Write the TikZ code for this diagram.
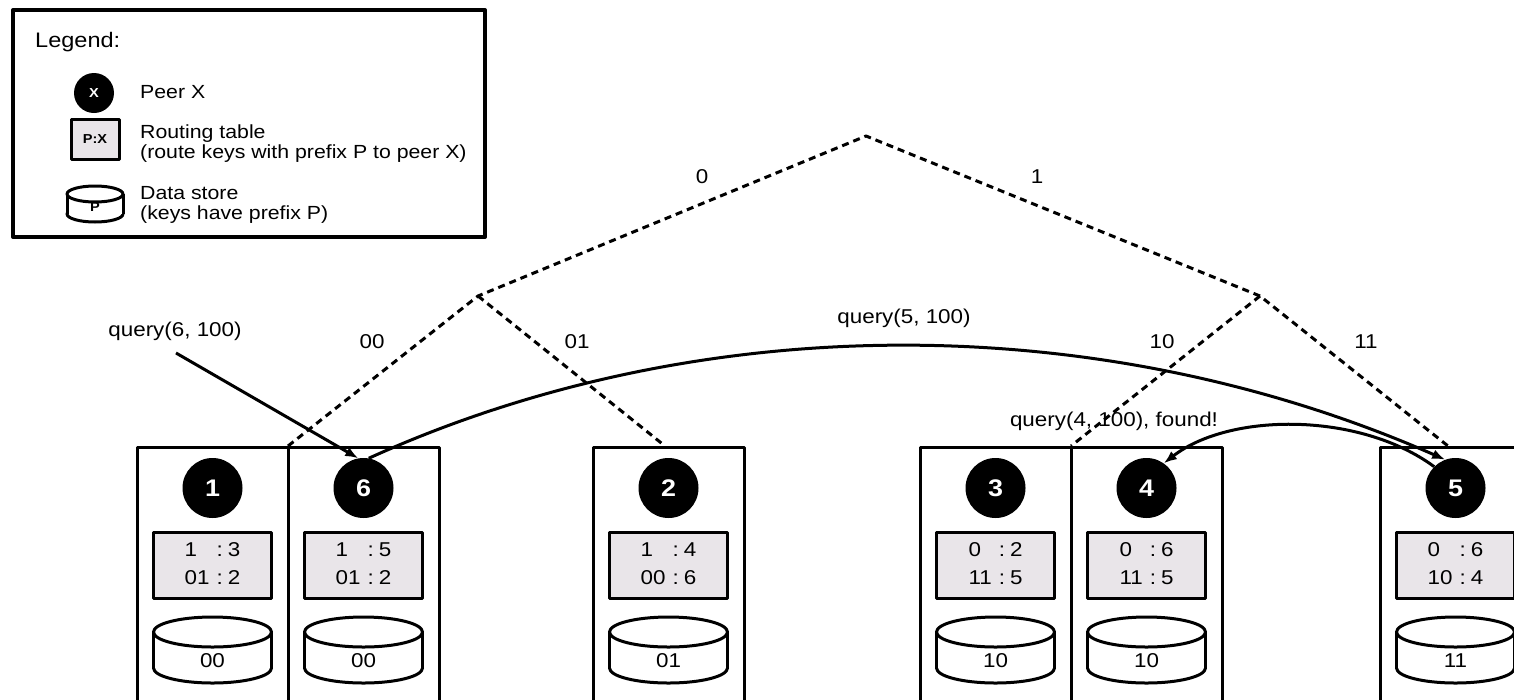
\documentclass[tikz,border=0pt]{standalone}
\usepackage{fontspec}
\setmainfont{Liberation Sans}[FakeStretch=1.12]
\usetikzlibrary{arrows.meta}

\definecolor{tablegray}{RGB}{233,229,233}

% fonts
\newcommand\lblfont{\fontsize{20}{24}\selectfont}
\newcommand\legitemfont{\fontsize{19}{23}\selectfont}
\newcommand\legfont{\fontsize{21}{25}\selectfont}
\newcommand\numfont{\bfseries\fontsize{24}{28}\selectfont}
\newcommand\smallfont{\fontsize{13}{15}\selectfont}

% a data store drawn as a flat cylinder: name, x, y (centre), half width, half height of ellipse, body offset, label
\newcommand\drawstore[7]{%
  \begin{scope}[shift={(#2,#3)}]
    \draw[storeline, fill=white] (0,#6) ellipse [x radius=#4, y radius=#5];
    \fill[white] (-#4,-#6) rectangle (#4,#6);
    \draw[storeline] (-#4,-#6) -- (-#4,#6) (#4,-#6) -- (#4,#6);
    \draw[storeline, fill=white] (0,-#6) ellipse [x radius=#4, y radius=#5];
    \node[storetext] (#1) at (0,#6-7) {#7};
  \end{scope}}

% two-line routing table: prefix : peer
\newcommand\rtab[4]{\renewcommand\arraystretch{1.15}%
  \begin{tabular}{@{}l@{\hspace{7pt}}c@{\hspace{5pt}}l@{}}#1&:&#2\\#3&:&#4\end{tabular}}

\tikzset{
  peerbox/.style={draw, line width=3pt, minimum width=151pt, minimum height=300pt, anchor=north, inner sep=0pt},
  peer/.style={circle, fill=black, minimum size=60pt, inner sep=0pt, text=white, font=\numfont},
  rtable/.style={draw, line width=3pt, fill=tablegray, minimum width=118pt, minimum height=66pt, inner sep=0pt, font=\lblfont},
  storeline/.style={line width=3pt},
  storetext/.style={font=\lblfont, inner sep=0pt},
  treeline/.style={line width=3pt, dash pattern=on 7pt off 5pt},
  qline/.style={line width=3pt, -{Latex[length=13pt,width=10pt]}},
  lbl/.style={font=\lblfont, inner sep=0pt},
  legtext/.style={font=\legitemfont, inner sep=0pt, anchor=base west},
  every picture/.style={line join=round}
}

\begin{document}
\begin{tikzpicture}[x=1pt, y=-1pt]
  \clip (0,0) rectangle (1514,699);
  \fill[white] (0,0) rectangle (1514,699);

  % ---------- legend ----------
  \draw[line width=4pt] (13,10) rectangle (485,237);
  \node[legtext, font=\legfont] (legtitle) at (35,47) {Legend:};
  \node[circle, fill=black, minimum size=40pt, inner sep=0pt, text=white, font=\bfseries\smallfont] (legpeer) at (94,93) {X};
  \node[legtext] (legpeertxt) at (140,98) {Peer X};
  \node[draw, line width=3pt, fill=tablegray, minimum width=48pt, minimum height=40pt, inner sep=0pt, font=\bfseries\smallfont] (legtab) at (95,139) {P:X};
  \node[legtext] (legtab1) at (140,138) {Routing table};
  \node[legtext] (legtab2) at (140,158) {(route keys with prefix P to peer X)};
  \begin{scope}[storetext/.style={font=\bfseries\smallfont, inner sep=0pt}]
    \drawstore{legstore}{95}{204}{28}{8}{10}{P}
  \end{scope}
  \node[legtext] (legstore1) at (140,199) {Data store};
  \node[legtext] (legstore2) at (140,219) {(keys have prefix P)};

  % ---------- peers ----------
  \foreach \n/\x/\a/\b/\c/\d/\s in {1/212.5/1/3/01/2/00, 6/363.5/1/5/01/2/00, 2/668.5/1/4/00/6/01,
                                   3/995.5/0/2/11/5/10, 4/1146.5/0/6/11/5/10, 5/1455.5/0/6/10/4/11}{
    \node[peerbox] (box\n) at (\x,446) {};
    \node[peer] (p\n) at (\x,488) {\n};
    \node[rtable] (rt\n) at (\x,565) {\rtab{\a}{\b}{\c}{\d}};
    \drawstore{ds\n}{\x}{650}{59}{15}{18}{\s}
  }

  % ---------- prefix tree ----------
  \coordinate (root) at (866,136);
  \coordinate (t0) at (478,296);
  \coordinate (t1) at (1260,296);
  \coordinate (t00) at (288,446);
  \coordinate (t01) at (665,446);
  \coordinate (t10) at (1071,446);
  \coordinate (t11) at (1448,446);
  \draw[treeline] (t00) -- (t0) -- (root) -- (t1) -- (t11);
  \draw[treeline] (t0) -- (t01);
  \draw[treeline] (t1) -- (t10);
  \node[lbl] (l0) at (702,177) {0};
  \node[lbl] (l1) at (1037,177) {1};
  \node[lbl] (l00) at (372,342) {00};
  \node[lbl] (l01) at (577,342) {01};
  \node[lbl] (l10) at (1162,342) {10};
  \node[lbl] (l11) at (1366,342) {11};

  % ---------- query path ----------
  \node[lbl] (q6) at (175,331) {query(6, 100)};
  \coordinate (q6start) at (176,353);
  \draw[qline] (q6start) -- (p6.100);

  \node[lbl] (q5) at (904,318) {query(5, 100)};
  \draw[qline] (p6.80) .. controls (700,308) and (1100,308) .. (p5.110);

  \node[lbl] (q4) at (1114,421) {query(4, 100), found!};
  \draw[qline] (p5.135) .. controls (1360,412) and (1230,412) .. (p4.55);
\end{tikzpicture}
\end{document}
